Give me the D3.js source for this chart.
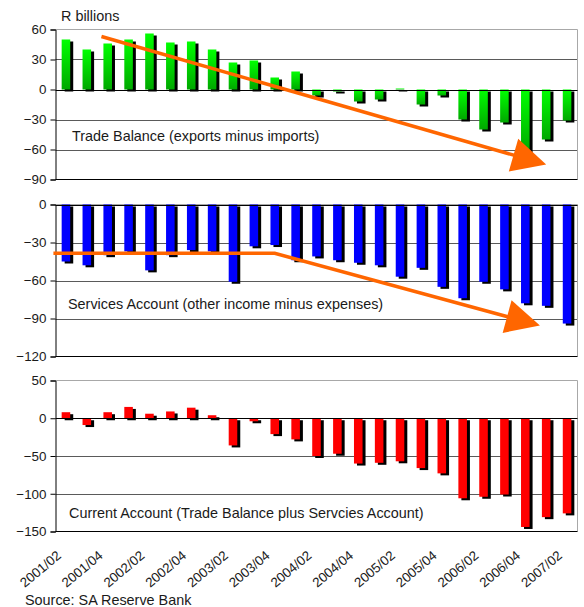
<!DOCTYPE html>
<html>
  <head>
    <meta charset="utf-8">
    <title>South Africa's balance of payments</title>
    <script src="https://d3js.org/d3.v7.min.js"></script>
    <style>
      body { margin: 0; background: #fff; }
      #chart text { font-family: "Liberation Sans", Arial, sans-serif; fill: #1a1a1a; }
    </style>
  </head>
  <body>
    <svg id="chart" width="584" height="607">
      <defs>
        <linearGradient id="greenFade" x1="0" y1="0" x2="0" y2="1">
          <stop offset="0" stop-color="#00ff00"></stop>
          <stop offset="1" stop-color="#00a800"></stop>
        </linearGradient>
      </defs>
    </svg>
    <script>
      // quarterly figures, R billions
      const quarters = ["2001/02", "2001/03", "2001/04", "2002/01", "2002/02", "2002/03", "2002/04",
        "2003/01", "2003/02", "2003/03", "2003/04", "2004/01", "2004/02", "2004/03", "2004/04",
        "2005/01", "2005/02", "2005/03", "2005/04", "2006/01", "2006/02", "2006/03", "2006/04",
        "2007/01", "2007/02"];
      const tickQuarters = ["2001/02", "2001/04", "2002/02", "2002/04", "2003/02", "2003/04", "2004/02",
        "2004/04", "2005/02", "2005/04", "2006/02", "2006/04", "2007/02"];
      const tradeBalance = [50, 40, 46, 50, 56, 47, 48, 40, 27, 29, 12, 18, -6, -2, -12, -10, 1, -15, -6,
        -30, -40, -33, -65, -50, -31];
      const servicesAccount = [-45, -48, -40, -37, -52, -40, -36, -37, -61, -33, -32, -44, -41, -44, -46,
        -48, -57, -50, -65, -74, -61, -67, -78, -80, -94];
      const currentAccount = [8, -9, 8, 15, 6, 9, 14, 4, -36, -4, -21, -28, -50, -47, -60, -59, -57, -66,
        -73, -106, -104, -101, -144, -131, -126];
      // trend arrows drawn on top: [quarter index, R billions]
      const tradeTrend = [[1.7, 53], [23.0, -75]];
      const servicesTrend = [[-0.6, -38.5], [10.0, -38.5], [22.7, -95.5]];

      // layout
      const left = 55.5, right = 577.5;
      const panels = [
        { values: tradeBalance, domain: [-90, 60], ticks: [60, 30, 0, -30, -60, -90], top: 29.5, bottom: 179.5,
          fill: "url(#greenFade)", label: "Trade Balance (exports minus imports)", lx: 72, ly: 141, trend: tradeTrend },
        { values: servicesAccount, domain: [-120, 0], ticks: [0, -30, -60, -90, -120], top: 204.5, bottom: 356.5,
          fill: "#0000ff", label: "Services Account (other income minus expenses)", lx: 68, ly: 309, trend: servicesTrend },
        { values: currentAccount, domain: [-150, 50], ticks: [50, 0, -50, -100, -150], top: 380.5, bottom: 531.5,
          fill: "#ff0000", label: "Current Account (Trade Balance plus Servcies Account)", lx: 69, ly: 518, trend: null }
      ];

      chart = d3.select("#chart");
      x = d3.scaleBand()
        .domain(quarters)
        .range([left, right])
        .paddingInner(0.59)
        .paddingOuter(0.295);
      xi = d3.scaleLinear()
        .domain([0, quarters.length - 1])
        .range([x(quarters[0]) + x.bandwidth() / 2, x(quarters[quarters.length - 1]) + x.bandwidth() / 2]);

      panels.forEach(function(p) {
        let y = d3.scaleLinear().domain(p.domain).range([p.bottom, p.top]);
        let g = chart.append("g");
        // gridlines
        g.selectAll(".grid")
            .data(p.ticks.filter(function(t) { return t != 0 && t != p.domain[0] && t != p.domain[1]; }))
          .enter().append("line")
            .attr("x1", left).attr("x2", right)
            .attr("y1", function(d) { return Math.round(y(d)) + 0.5; })
            .attr("y2", function(d) { return Math.round(y(d)) + 0.5; })
            .attr("stroke", "#5a5a5a");
        // frame top and right
        g.append("path")
          .attr("d", "M" + left + "," + p.top + "H" + right + "V" + p.bottom)
          .attr("fill", "none")
          .attr("stroke", "#a8a8a8");
        // bars with drop shadow
        let bars = g.selectAll(".bar")
            .data(p.values)
          .enter().append("g");
        bars.append("rect")
          .attr("x", function(d, i) { return x(quarters[i]) + 3; })
          .attr("y", function(d) { return Math.min(y(d), y(0)) + 2; })
          .attr("width", x.bandwidth())
          .attr("height", function(d) { return Math.abs(y(d) - y(0)); })
          .attr("fill", "#000");
        bars.append("rect")
          .attr("x", function(d, i) { return x(quarters[i]); })
          .attr("y", function(d) { return Math.min(y(d), y(0)); })
          .attr("width", x.bandwidth())
          .attr("height", function(d) { return Math.abs(y(d) - y(0)); })
          .attr("fill", p.fill);
        // zero line, axes
        g.append("line")
          .attr("x1", left).attr("x2", right)
          .attr("y1", Math.round(y(0)) + 0.5).attr("y2", Math.round(y(0)) + 0.5)
          .attr("stroke", "#000");
        g.append("line")
          .attr("x1", left).attr("x2", right)
          .attr("y1", p.bottom).attr("y2", p.bottom)
          .attr("stroke", "#000");
        let yAxis = d3.axisLeft(y)
          .tickValues(p.ticks)
          .tickSize(5)
          .tickPadding(4);
        let ax = g.append("g")
          .attr("transform", "translate(" + left + ",0)")
          .call(yAxis);
        ax.attr("font-family", null);
        ax.select(".domain").attr("stroke", "#000");
        ax.selectAll("line").attr("stroke", "#000");
        ax.selectAll("text")
          .attr("font-size", 13.4);
        // panel label
        g.append("text")
          .attr("x", p.lx)
          .attr("y", p.ly)
          .attr("font-size", 14.4)
          .text(p.label);
        p.y = y;
      });

      // trend arrows
      panels.forEach(function(p) {
        if (!p.trend) return;
        let pts = p.trend.map(function(d) { return [xi(d[0]), p.y(d[1])]; });
        let a = pts[pts.length - 2], b = pts[pts.length - 1];
        let ang = Math.atan2(b[1] - a[1], b[0] - a[0]);
        let len = 34, half = 17;
        let ux = Math.cos(ang), uy = Math.sin(ang);
        let base = [b[0] - ux * len, b[1] - uy * len];
        let linePts = pts.slice(0, -1).concat([[b[0] - ux * len * 0.5, b[1] - uy * len * 0.5]]);
        chart.append("path")
          .attr("d", d3.line()(linePts))
          .attr("fill", "none")
          .attr("stroke", "#ff6600")
          .attr("stroke-width", 3.5);
        chart.append("path")
          .attr("d", d3.line()([b, [base[0] - uy * half, base[1] + ux * half], [base[0] + uy * half, base[1] - ux * half]]) + "Z")
          .attr("fill", "#ff6600");
      });

      // quarter labels under the bottom panel
      chart.selectAll(".qlabel")
          .data(tickQuarters)
        .enter().append("text")
          .attr("transform", function(d) {
            return "translate(" + (x(d) + x.bandwidth() / 2 - 4) + ",557) rotate(-40)";
          })
          .attr("text-anchor", "end")
          .attr("font-size", 13.4)
          .text(function(d) { return d; });

      chart.append("text")
        .attr("x", 61).attr("y", 21)
        .attr("font-size", 14.4)
        .text("R billions");
      chart.append("text")
        .attr("x", 25).attr("y", 605)
        .attr("font-size", 14.4)
        .text("Source: SA Reserve Bank");
    </script>
  </body>
</html>
